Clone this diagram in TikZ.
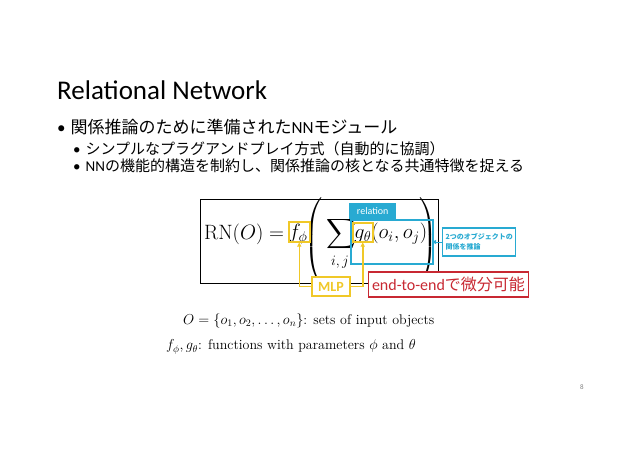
\documentclass[tikz,border=0pt]{standalone}
\usepackage{amsmath}
\usepackage[no-math]{fontspec}
\setmainfont{Carlito}
\newfontfamily\jp{Noto Sans CJK JP}
\newfontfamily\lmr{Latin Modern Roman}
\usetikzlibrary{arrows.meta}
\definecolor{ylw}{RGB}{240,200,40}
\definecolor{blu}{RGB}{40,170,210}
\definecolor{rd}{RGB}{200,40,50}
\tikzset{x=1pt,y=-1pt,
 ybox/.style={draw=ylw,line width=1.5pt,inner sep=0},
 txt/.style={anchor=west,inner sep=0},
 eqf/.style={inner sep=0,font=\fontsize{21}{24}\selectfont},
 yarr/.style={draw=ylw,line width=1.5pt,-{Triangle[length=4pt,width=4pt]}}}
\begin{document}
\begin{tikzpicture}
\useasboundingbox[fill=white] (0,0) rectangle (638,452);
\node[txt,font=\fontsize{27}{30}\selectfont] (title) at (57,90) {Relational Network};
\node[txt,font=\fontsize{17}{20}\selectfont] (b1) at (57,127) {•\hspace{5pt}{\jp 関係推論のために準備された}NN{\jp モジュール}};
\node[txt,font=\fontsize{15}{18}\selectfont] (b2) at (73,149) {•\hspace{5pt}{\jp シンプルなプラグアンドプレイ方式（自動的に協調）}};
\node[txt,font=\fontsize{15}{18}\selectfont] (b3) at (73,166) {•\hspace{5pt}NN{\jp の機能的構造を制約し、関係推論の核となる共通特徴を捉える}};
\draw[black,line width=1pt] (200,199) rectangle (438,283);
\node[eqf,anchor=west] (rn) at (204,234) {$\mathrm{RN}(O)=$};
\node[eqf] (fp) at (298,234) {$f_\phi$};
\node[eqf] (lp) at (314,241) {$\left(\vrule height 35pt depth 35pt width 0pt\right.$};
\node[eqf,font=\fontsize{22}{24}\selectfont] (sum) at (341,234) {$\displaystyle\sum$};
\node[eqf,font=\fontsize{14}{16}\selectfont] (ij) at (340,262) {$i,j$};
\node[eqf,anchor=west] (gt) at (354,234) {$g_\theta(o_i,o_j)$};
\node[eqf] (rp) at (428,241) {$\left.\vrule height 35pt depth 35pt width 0pt\right)$};
\node[rectangle,draw=blu,line width=1.5pt,minimum width=82pt,minimum height=44pt,anchor=north west] (rel) at (350,219) {};
\node[fill=blu,text=white,font=\fontsize{10}{12}\selectfont,minimum width=47pt,minimum height=16pt,inner sep=0,anchor=south west] (rl) at (349,219) {relation};
\node[ybox,minimum width=21pt,minimum height=20pt,anchor=north west] (f) at (288,221) {};
\node[ybox,minimum width=20pt,minimum height=19pt,anchor=north west] (g) at (352,222) {};
\node[draw=blu,line width=1.2pt,text=blu,align=left,font=\jp\fontsize{7}{10}\selectfont\bfseries,inner sep=3pt,anchor=west,minimum height=28pt] (note) at (442,242) {2つのオブジェクトの\\関係を推論};
\draw[blu,line width=1pt,-{Triangle[length=4pt,width=4pt]}] (note.west) -- (432,242);
\node[ybox,fill=white,text=ylw,font=\bfseries\fontsize{14}{16}\selectfont,minimum width=38pt,minimum height=19pt] (mlp) at (331,286.5) {MLP};
\node[draw=rd,line width=1.2pt,fill=white,text=rd,font=\fontsize{16}{18}\selectfont,minimum width=157pt,minimum height=25pt] (e2e) at (448.5,284.5) {end-to-end{\jp で微分可能}};
\draw[yarr] (mlp.west) -| (f.south);
\draw[yarr] (mlp.east) -| (g.south);
\node[txt,font=\lmr\fontsize{14}{16}\selectfont] (m1) at (183,321) {$O=\{o_1,o_2,\ldots,o_n\}$: sets of input objects};
\node[txt,font=\lmr\fontsize{14}{16}\selectfont] (m2) at (166,347) {$f_\phi, g_\theta$: functions with parameters $\phi$ and $\theta$};
\node[font=\fontsize{7}{8}\selectfont,text=gray] (pg) at (582,387) {8};
\end{tikzpicture}
\end{document}
